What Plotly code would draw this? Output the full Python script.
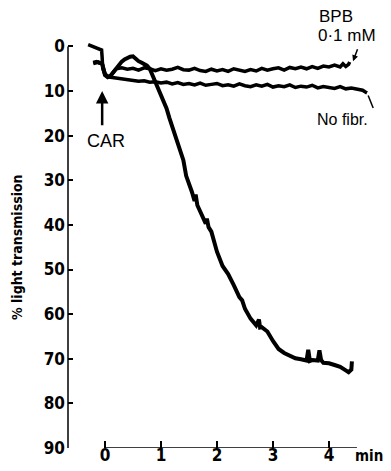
import plotly.graph_objects as go

# ---- data ----
y_ticks = [0, 10, 20, 30, 40, 50, 60, 70, 80, 90]
x_ticks = [0, 1, 2, 3, 4]

bpb_x = [-0.21, -0.15, -0.1, -0.05, 0.0, 0.05, 0.1, 0.15, 0.2, 0.3, 0.4, 0.5, 0.6, 0.7, 0.8,
         0.9, 1.0, 1.1, 1.2, 1.3, 1.4, 1.5, 1.6, 1.7, 1.8, 1.9, 2.0, 2.1, 2.2, 2.3, 2.4, 2.5,
         2.6, 2.7, 2.8, 2.9, 3.0, 3.1, 3.2, 3.3, 3.4, 3.5, 3.6, 3.7, 3.8, 3.9, 4.0, 4.1, 4.2,
         4.25, 4.3, 4.35, 4.37]
bpb_y = [3.6, 3.4, 3.7, 3.8, 6.0, 6.8, 6.5, 5.6, 5.0, 4.8, 5.1, 4.9, 5.3, 4.8, 5.0,
         5.4, 5.0, 5.3, 5.1, 4.7, 5.2, 5.3, 4.9, 5.4, 5.6, 5.1, 5.5, 5.2, 5.6, 5.0, 5.4, 5.6,
         5.2, 5.5, 4.9, 5.3, 5.0, 4.8, 5.3, 4.7, 5.0, 4.6, 5.0, 4.5, 4.9, 4.4, 4.6, 4.2, 4.6,
         3.9, 4.5, 4.0, 3.5]

nofib_x = [-0.30, -0.06, -0.05, -0.04, 0.0, 0.05, 0.1, 0.2, 0.3, 0.4, 0.5, 0.6, 0.7, 0.8,
           0.9, 1.0, 1.1, 1.2, 1.3, 1.4, 1.5, 1.6, 1.7, 1.8, 1.9, 2.0, 2.1, 2.2, 2.3, 2.4,
           2.5, 2.6, 2.7, 2.8, 2.9, 3.0, 3.1, 3.2, 3.3, 3.4, 3.5, 3.6, 3.7, 3.8, 3.9, 4.0,
           4.1, 4.2, 4.3, 4.4, 4.5, 4.6, 4.65, 4.68]
nofib_y = [-0.4, 0.8, 2.5, 4.9, 6.3, 6.8, 6.9, 7.1, 7.3, 7.5, 7.6, 7.8, 7.7, 8.0,
           7.9, 8.2, 8.0, 8.4, 8.1, 8.5, 8.3, 8.6, 8.2, 8.7, 8.5, 8.3, 8.8, 8.6, 8.9, 8.4,
           8.8, 9.0, 8.6, 8.9, 8.5, 9.1, 8.8, 9.0, 8.6, 9.2, 8.9, 9.1, 8.7, 9.3, 9.0, 9.2,
           9.4, 9.0, 9.5, 9.3, 9.6, 9.8, 10.2, 10.4]

agg_x = [-0.21, -0.12, -0.05, 0.0, 0.05, 0.1, 0.15, 0.2, 0.25, 0.3, 0.35, 0.4, 0.45, 0.5,
         0.55, 0.6, 0.65, 0.7, 0.75, 0.8, 0.85, 0.9, 0.95, 1.0, 1.05, 1.1, 1.15, 1.2, 1.25,
         1.3, 1.35, 1.4, 1.45, 1.5, 1.55, 1.6, 1.62, 1.65, 1.7, 1.75, 1.8, 1.82, 1.85, 1.9,
         1.95, 2.0, 2.1, 2.2, 2.3, 2.4, 2.45, 2.5, 2.6, 2.7, 2.75, 2.77, 2.8, 2.85, 2.9, 3.0,
         3.1, 3.2, 3.3, 3.4, 3.5, 3.6, 3.63, 3.66, 3.7, 3.8, 3.83, 3.86, 3.9, 4.0, 4.1, 4.2,
         4.3, 4.35, 4.4, 4.41]
agg_y = [3.8, 3.5, 3.9, 6.4, 6.9, 6.6, 5.8, 4.9, 4.1, 3.4, 2.9, 2.5, 2.3, 2.2,
         2.8, 3.3, 3.6, 3.9, 4.3, 5.0, 6.4, 8.2, 9.4, 11.0, 12.5, 13.9, 16.0, 17.8, 19.8,
         21.5, 23.4, 25.5, 29.0, 30.6, 32.5, 34.6, 33.2, 35.6, 37.0, 38.4, 39.7, 38.6, 40.5, 41.5,
         43.8, 46.0, 49.2, 51.0, 53.5, 56.2, 56.9, 58.8, 61.0, 62.5, 61.2, 63.0, 62.9, 63.4, 63.9, 66.0,
         67.8, 68.7, 69.4, 69.9, 70.1, 70.4, 68.0, 70.5, 70.3, 70.4, 68.1, 70.3, 70.9, 71.0, 71.4, 71.8,
         72.6, 73.0, 72.4, 70.6]

FONT = "DejaVu Sans Condensed, Liberation Sans, sans-serif"
TFONT = "Liberation Sans, Arial, sans-serif"

fig = go.Figure()
for xs, ys, w in [(bpb_x, bpb_y, 3.5), (nofib_x, nofib_y, 3.5), (agg_x, agg_y, 4)]:
    fig.add_trace(go.Scatter(x=xs, y=ys, mode="lines", cliponaxis=False,
                             line=dict(color="black", width=w), hoverinfo="skip",
                             showlegend=False))

# page body has an 8px margin; keep the figure inside the visible window
fig.update_layout(
    template="none",
    width=375, height=463,
    margin=dict(l=60, r=0, t=34, b=23, autoexpand=False),
    plot_bgcolor="white", paper_bgcolor="white",
    xaxis=dict(range=[-0.66, 4.965], tickvals=x_ticks, ticks="inside", ticklen=7,
               tickwidth=1.5, tickcolor="black", showline=False, showgrid=False,
               zeroline=False, automargin=False, ticklabelstandoff=-5,
               tickfont=dict(family=FONT, size=17, color="black", weight="bold")),
    yaxis=dict(range=[90, -1], tickvals=y_ticks, ticks="inside", ticklen=5,
               tickwidth=1.5, tickcolor="black", showline=False, showgrid=False,
               zeroline=False, automargin=False, ticklabelstandoff=2,
               tickfont=dict(family=FONT, size=17, color="black", weight="bold")),
    shapes=[
        dict(type="line", xref="paper", yref="y", x0=0, x1=0, y0=0, y1=90,
             line=dict(color="black", width=1.5)),
        dict(type="line", xref="x", yref="y", x0=0, x1=4.5, y0=90, y1=90,
             line=dict(color="black", width=1.5)),
        dict(type="line", xref="x", yref="y", x0=4.70, x1=4.79, y0=11.0, y1=13.8,
             line=dict(color="black", width=1.5)),
    ],
)

C = dict(xanchor="center", yanchor="middle", showarrow=False)
fig.add_annotation(xref="paper", yref="paper", x=-0.162, y=0.495,
                   text="% light transmission", textangle=-90, **C,
                   font=dict(family=FONT, size=14, color="black", weight="bold"))
fig.add_annotation(xref="paper", yref="paper", x=0.956, y=-0.02, text="min", **C,
                   font=dict(family=FONT, size=15, color="black", weight="bold"))
# CAR arrow
fig.add_annotation(xref="x", yref="y", x=-0.05, y=10.0, axref="x", ayref="y",
                   ax=-0.05, ay=18.0, text="", showarrow=True, arrowhead=2,
                   arrowsize=1.0, arrowwidth=2.5, arrowcolor="black")
fig.add_annotation(xref="x", yref="y", x=0.02, y=21.1, text="CAR", **C,
                   font=dict(family=TFONT, size=18, color="black"))
# BPB label
fig.add_annotation(xref="paper", yref="paper", x=0.852, y=1.0616, text="BPB", **C,
                   font=dict(family=TFONT, size=17, color="black"))
fig.add_annotation(xref="paper", yref="paper", x=0.886, y=1.017, text="0·1 mM", **C,
                   font=dict(family=TFONT, size=17, color="black"))
fig.add_annotation(xref="x", yref="y", x=4.43, y=3.3, axref="x", ayref="y",
                   ax=4.52, ay=0.3, text="", showarrow=True, arrowhead=2,
                   arrowsize=0.8, arrowwidth=1.5, arrowcolor="black")
fig.add_annotation(xref="paper", yref="paper", x=0.871, y=0.809, text="No fibr.", **C,
                   font=dict(family=TFONT, size=16, color="black"))

fig.write_html("out.html")
